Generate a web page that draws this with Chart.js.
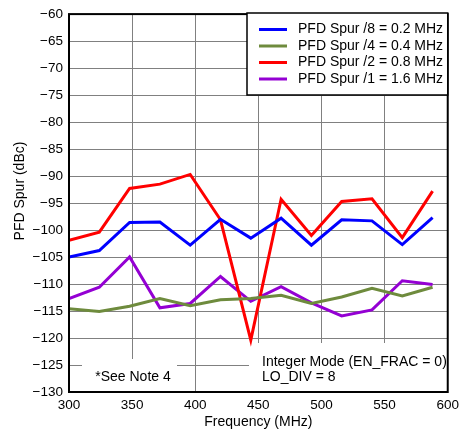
<!DOCTYPE html>
<html>
<head>
<meta charset="UTF-8">
<script src="https://cdn.jsdelivr.net/npm/chart.js"></script>
<style>
  html, body { margin: 0; padding: 0; background: #fff; }
  #wrap { width: 464px; height: 435px; }
</style>
</head>
<body>
<div id="wrap"><canvas id="c" width="464" height="435"></canvas></div>
<script>
// frequencies (MHz)
const freqs = [300, 324, 348, 372, 396, 420, 444, 468, 492, 516, 540, 564, 588];
// spur levels (dBc)
const spur8 = [-105.0, -103.8, -98.6, -98.5, -102.8, -98.0, -101.5, -97.8, -102.8, -98.1, -98.3, -102.7, -97.7];
const spur4 = [-114.6, -115.1, -114.1, -112.7, -114.0, -112.9, -112.7, -112.1, -113.6, -112.4, -110.8, -112.2, -110.6];
const spur2 = [-101.9, -100.4, -92.3, -91.5, -89.7, -98.1, -120.4, -94.3, -101.0, -94.7, -94.2, -101.4, -92.8];
const spur1 = [-112.7, -110.6, -105.0, -114.4, -113.6, -108.6, -113.2, -110.5, -113.5, -115.9, -114.8, -109.4, -110.1];

const seriesNames = ['PFD Spur /8 = 0.2 MHz', 'PFD Spur /4 = 0.4 MHz', 'PFD Spur /2 = 0.8 MHz', 'PFD Spur /1 = 1.6 MHz'];
const seriesColors = ['#0000ff', '#6e8b3d', '#ff0000', '#9400d3'];
const allSeries = [spur8, spur4, spur2, spur1];

const FONT = 'Arial, "Liberation Sans", sans-serif';

function pts(vals) {
  return vals.map((v, i) => ({ x: freqs[i], y: v }));
}

const minus = v => String(v).replace('-', '\u2212');

// white note boxes, frame, legend, axis titles
const extras = {
  id: 'extras',
  beforeDatasetsDraw(chart) {
    const { ctx, chartArea: a } = chart;
    ctx.save();
    ctx.fillStyle = '#fff';
    ctx.fillRect(82, 359, 95, a.bottom - 359);
    ctx.fillRect(249, 343, a.right - 249, a.bottom - 343);
    ctx.fillStyle = '#000';
    ctx.font = '14px ' + FONT;
    ctx.textBaseline = 'middle';
    ctx.textAlign = 'center';
    ctx.fillText('*See Note 4', 133, 377);
    ctx.textAlign = 'left';
    ctx.fillText('Integer Mode (EN_FRAC = 0)', 262, 362);
    ctx.fillText('LO_DIV = 8', 262, 377);
    ctx.restore();
  },
  afterDatasetsDraw(chart) {
    const { ctx, chartArea: a } = chart;
    ctx.save();
    ctx.strokeStyle = '#000';
    ctx.lineWidth = 2;
    ctx.strokeRect(a.left, a.top, a.right - a.left, a.bottom - a.top);

    // legend box
    const lx = 247, ly = 13, lw = a.right - 247, lh = 82;
    ctx.fillStyle = '#fff';
    ctx.fillRect(lx, ly, lw, lh);
    ctx.lineWidth = 1.5;
    ctx.strokeRect(lx, ly, lw, lh);
    ctx.font = '14px ' + FONT;
    ctx.textBaseline = 'middle';
    ctx.textAlign = 'left';
    const rows = [29.5, 46, 62.5, 79];
    seriesNames.forEach((name, i) => {
      ctx.strokeStyle = seriesColors[i];
      ctx.lineWidth = 3;
      ctx.beginPath();
      ctx.moveTo(259, rows[i]);
      ctx.lineTo(287, rows[i]);
      ctx.stroke();
      ctx.fillStyle = '#000';
      ctx.fillText(name, 298, rows[i]);
    });

    // axis titles
    ctx.fillStyle = '#000';
    ctx.font = '14px ' + FONT;
    ctx.textAlign = 'center';
    ctx.fillText('Frequency (MHz)', (a.left + a.right) / 2, 422);
    ctx.translate(20, 191);
    ctx.rotate(-Math.PI / 2);
    ctx.fillText('PFD Spur (dBc)', 0, 0);
    ctx.restore();
  }
};

new Chart(document.getElementById('c'), {
  type: 'line',
  data: {
    datasets: allSeries.map((vals, i) => ({
      label: seriesNames[i],
      data: pts(vals),
      borderColor: seriesColors[i],
      backgroundColor: seriesColors[i],
      borderWidth: 3,
      pointRadius: 0,
      tension: 0
    }))
  },
  options: {
    responsive: false,
    animation: false,
    layout: { padding: { left: 0, right: 15, top: 13, bottom: 0 } },
    plugins: {
      legend: { display: false },
      tooltip: { enabled: false }
    },
    scales: {
      x: {
        type: 'linear',
        min: 300,
        max: 600,
        afterFit(s) { s.height = 43; },
        ticks: { stepSize: 50, color: '#000', font: { size: 13.5, family: FONT }, padding: 5, maxRotation: 0 },
        grid: { color: '#808080', lineWidth: 1, drawTicks: false },
        border: { display: false }
      },
      y: {
        min: -130,
        max: -60,
        afterFit(s) { s.width = 69; },
        ticks: { stepSize: 5, color: '#000', font: { size: 13.5, family: FONT }, padding: 6, callback: v => minus(v) },
        grid: { color: '#808080', lineWidth: 1, drawTicks: false },
        border: { display: false }
      }
    }
  },
  plugins: [extras]
});
</script>
</body>
</html>
